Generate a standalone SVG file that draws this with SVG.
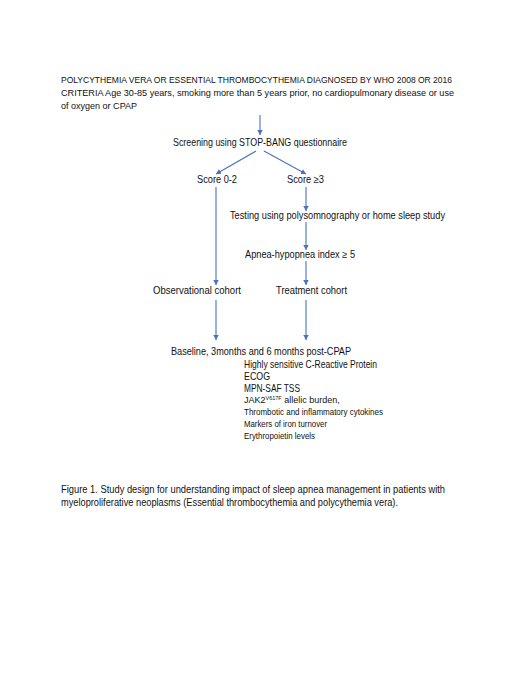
<svg xmlns="http://www.w3.org/2000/svg" width="520" height="673" viewBox="0 0 520 673">
<style>
text{font-family:"Liberation Sans",Arial,sans-serif;font-size:10.3px;fill:#111;}
.h{font-size:9.8px;}
.s{font-size:9px;}
.c line{stroke:#4a72c2;stroke-width:1.1;fill:none;marker-end:url(#ah);}
</style>
<defs>
<marker id="ah" markerUnits="userSpaceOnUse" markerWidth="7" markerHeight="7" refX="5" refY="2.75" orient="auto">
<path d="M0,0 L5,2.75 L0,5.5 z" fill="#4a72c2"/>
</marker>
</defs>
<rect width="520" height="673" fill="#fff"/>
<g id="header">
<text class="h" x="61" y="83" textLength="391" lengthAdjust="spacingAndGlyphs">POLYCYTHEMIA VERA OR ESSENTIAL THROMBOCYTHEMIA DIAGNOSED BY WHO 2008 OR 2016</text>
<text class="h" x="61" y="96" textLength="393" lengthAdjust="spacingAndGlyphs">CRITERIA Age 30-85 years, smoking more than 5 years prior, no cardiopulmonary disease or use</text>
<text class="h" x="61" y="109" textLength="76" lengthAdjust="spacingAndGlyphs">of oxygen or CPAP</text>
</g>
<g class="c" id="connectors">
<line x1="260" y1="115" x2="260" y2="135"/>
<line x1="256" y1="151" x2="216" y2="174"/>
<line x1="264" y1="151" x2="306" y2="174"/>
<line x1="216" y1="187" x2="216" y2="285"/>
<line x1="306" y1="187" x2="306" y2="211"/>
<line x1="306" y1="222" x2="306" y2="250"/>
<line x1="306" y1="261" x2="306" y2="285"/>
<line x1="216" y1="300" x2="216" y2="340"/>
<line x1="306" y1="300" x2="306" y2="340"/>
</g>
<g id="screening"><text x="173" y="146" textLength="174" lengthAdjust="spacingAndGlyphs">Screening using STOP-BANG questionnaire</text></g>
<g id="score02"><text x="197" y="183" textLength="40" lengthAdjust="spacingAndGlyphs">Score 0-2</text></g>
<g id="score3"><text x="287" y="183" textLength="37" lengthAdjust="spacingAndGlyphs">Score ≥3</text></g>
<g id="testing"><text x="230" y="219" textLength="215" lengthAdjust="spacingAndGlyphs">Testing using polysomnography or home sleep study</text></g>
<g id="ahi"><text x="245" y="258" textLength="110" lengthAdjust="spacingAndGlyphs">Apnea-hypopnea index ≥ 5</text></g>
<g id="observational"><text x="153" y="294" textLength="88" lengthAdjust="spacingAndGlyphs">Observational cohort</text></g>
<g id="treatment"><text x="276" y="294" textLength="71" lengthAdjust="spacingAndGlyphs">Treatment cohort</text></g>
<g id="outcomes">
<text x="171" y="355" textLength="180" lengthAdjust="spacingAndGlyphs">Baseline, 3months and 6 months post-CPAP</text>
<text x="244" y="368" textLength="133" lengthAdjust="spacingAndGlyphs">Highly sensitive C-Reactive Protein</text>
<text x="244" y="380" textLength="26" lengthAdjust="spacingAndGlyphs">ECOG</text>
<text x="244" y="392" textLength="56" lengthAdjust="spacingAndGlyphs">MPN-SAF TSS</text>
<text class="s" x="244" y="403">JAK2<tspan font-size="5.5" dy="-3">V617F</tspan><tspan dy="3"> allelic burden,</tspan></text>
<text class="s" x="244" y="415" textLength="139" lengthAdjust="spacingAndGlyphs">Thrombotic and inflammatory cytokines</text>
<text class="s" x="244" y="427" textLength="83" lengthAdjust="spacingAndGlyphs">Markers of iron turnover</text>
<text class="s" x="244" y="439" textLength="71" lengthAdjust="spacingAndGlyphs">Erythropoietin levels</text>
</g>
<g id="caption">
<text x="61" y="493" textLength="384" lengthAdjust="spacingAndGlyphs">Figure 1. Study design for understanding impact of sleep apnea management in patients with</text>
<text x="61" y="506" textLength="337" lengthAdjust="spacingAndGlyphs">myeloproliferative neoplasms (Essential thrombocythemia and polycythemia vera).</text>
</g>
</svg>
